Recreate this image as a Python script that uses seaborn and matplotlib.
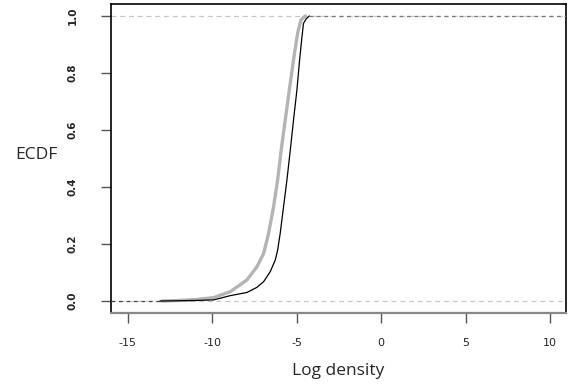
import numpy as np
import pandas as pd
import matplotlib
matplotlib.use("Agg")
import matplotlib.pyplot as plt
import seaborn as sns

# ECDF curves
gray_x = [-13.0, -12.0, -11.0, -9.92, -8.93, -7.95, -7.36, -6.96, -6.67, -6.37, -6.13,
          -5.92, -5.68, -5.44, -5.19, -4.95, -4.75, -4.5]
gray_y = [0.0, 0.002, 0.005, 0.012, 0.033, 0.074, 0.12, 0.167, 0.237, 0.331, 0.425,
          0.53, 0.635, 0.74, 0.846, 0.939, 0.986, 1.0]

black_x = [-13.1, -12.0, -11.0, -9.92, -8.93, -7.95, -7.36, -6.96, -6.57, -6.27, -6.13,
           -5.98, -5.78, -5.58, -5.38, -5.19, -4.99, -4.83, -4.69, -4.6, -4.44, -4.25]
black_y = [0.0, 0.001, 0.002, 0.004, 0.019, 0.030, 0.048, 0.068, 0.103, 0.144, 0.179,
           0.237, 0.331, 0.425, 0.53, 0.635, 0.74, 0.846, 0.927, 0.974, 0.99, 1.0]

x_ticks = [-15, -10, -5, 0, 5, 10]
y_ticks = [0.0, 0.2, 0.4, 0.6, 0.8, 1.0]
x_label = "Log density"
y_label = "ECDF"

sns.set_theme(style="white")
plt.rcParams['font.family'] = ['DejaVu Sans']

fig = plt.figure(figsize=(5.8, 3.85), dpi=100)
ax = fig.add_axes([0.1914, 0.187, 0.9759 - 0.1914, 0.9896 - 0.187])

xlim = (-16.0, 10.95)
ylim = (-0.042, 1.042)

# reference lines at 0 and 1
for yv in (0.0, 1.0):
    ax.axhline(yv, color="#c8c8c8", lw=0.9, ls=(0, (4, 3)), zorder=1)

gray_df = pd.DataFrame({"x": gray_x, "y": gray_y})
black_df = pd.DataFrame({"x": black_x, "y": black_y})
sns.lineplot(data=gray_df, x="x", y="y", ax=ax, color="#b4b4b4", lw=2.4,
             sort=False, estimator=None, zorder=2)
sns.lineplot(data=black_df, x="x", y="y", ax=ax, color="black", lw=0.9,
             sort=False, estimator=None, zorder=3)
# step-function extensions
ax.plot([xlim[0], black_x[0]], [0, 0], color="#444444", lw=0.9, ls=(0, (3, 3)), zorder=3)
ax.plot([black_x[-1], xlim[1]], [1, 1], color="#777777", lw=0.9, ls=(0, (3, 3)), zorder=3)

ax.set_xlim(*xlim)
ax.set_ylim(*ylim)
ax.set_xticks(x_ticks)
ax.set_xticklabels([str(v) for v in x_ticks], fontsize=8)
ax.set_yticks(y_ticks)
ax.set_yticklabels([f"{v:.1f}" for v in y_ticks], fontsize=7.5, fontweight="bold",
                   rotation=90, va="center")

for s in ("top", "left", "right"):
    ax.spines[s].set_color("black")
    ax.spines[s].set_linewidth(1.2)
ax.spines["bottom"].set_color("#888888")
ax.spines["bottom"].set_linewidth(1.6)

ax.tick_params(axis="x", which="major", direction="out", length=7, width=1.0,
               color="#555555", pad=11, bottom=True)
ax.tick_params(axis="y", which="major", direction="out", length=7, width=1.0,
               color="#555555", pad=17, left=True)

ax.set_xlabel(x_label, fontsize=12.5, family=["Open Sans"], labelpad=11)
ax.set_ylabel(y_label, fontsize=12.5, family=["Open Sans"], rotation=0, labelpad=0)
ax.yaxis.set_label_coords(-0.165, 0.485)
ax.grid(False)

fig.savefig("out.png", dpi=100)
